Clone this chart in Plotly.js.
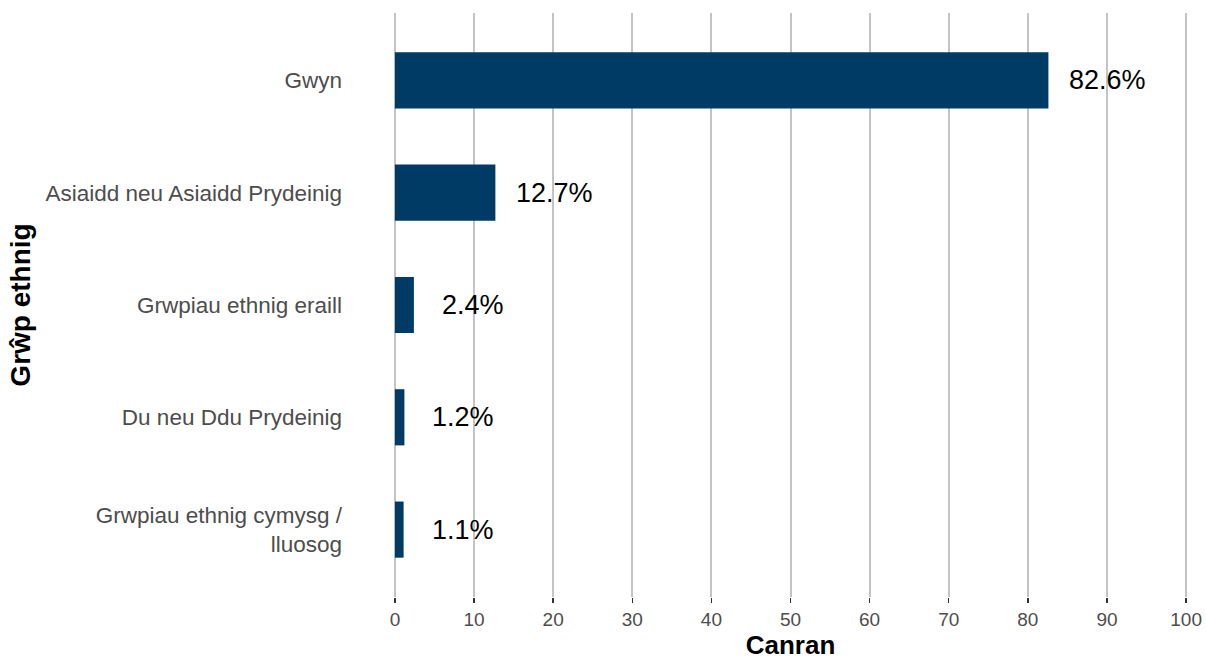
<!DOCTYPE html>
<html>
<head>
<meta charset="utf-8">
<script src="https://cdn.plot.ly/plotly-3.0.1.min.js"></script>
<style>html,body{margin:0;padding:0;background:#fff;}#chart{width:1206px;height:660px;}</style>
</head>
<body>
<div id="chart"></div>
<script>
const categories = [
  "Gwyn",
  "Asiaidd neu Asiaidd Prydeinig",
  "Grwpiau ethnig eraill",
  "Du neu Ddu Prydeinig",
  "Grwpiau ethnig cymysg /<br>lluosog"
];
const values = [82.6, 12.7, 2.4, 1.2, 1.1];
const valueLabels = ["82.6%", "12.7%", "2.4%", "1.2%", "1.1%"];
const xTicks = [0, 10, 20, 30, 40, 50, 60, 70, 80, 90, 100];

const FONT = "Arial, 'Liberation Sans', sans-serif";

const trace = {
  type: "bar",
  orientation: "h",
  x: values,
  y: categories,
  width: 0.5,
  marker: { color: "#003b66", line: { width: 0 } },
  hoverinfo: "skip"
};

const annotations = values.map((v, i) => ({
  x: v, y: categories[i], xref: "x", yref: "y",
  text: valueLabels[i], showarrow: false,
  xanchor: "center", yanchor: "middle", xshift: 59,
  font: { family: FONT, size: 27, color: "#000000" }
}));

const layout = {
  width: 1206, height: 660,
  margin: { l: 387, r: 12, t: 12.5, b: 62.5, pad: 0 },
  paper_bgcolor: "#ffffff",
  plot_bgcolor: "#ffffff",
  showlegend: false,
  font: { family: FONT },
  xaxis: {
    range: [-1, 101],
    tickvals: xTicks,
    ticktext: xTicks.map(String),
    showgrid: true, gridcolor: "#c4c4c4", gridwidth: 2,
    zeroline: false, showline: false,
    ticks: "outside", ticklen: 5, tickwidth: 1.5, tickcolor: "#333333",
    tickfont: { family: FONT, size: 19, color: "#4d4d4d" },
    title: { text: "<b>Canran</b>", font: { family: FONT, size: 26, color: "#000000" }, standoff: 13 },
    fixedrange: true
  },
  yaxis: {
    type: "category",
    range: [4.6, -0.6],
    showgrid: false, zeroline: false, showline: false,
    ticks: "", ticklabelstandoff: 44,
    tickfont: { family: FONT, size: 22.5, color: "#4d4d4d" },
    title: { text: "<b>Grŵp ethnig</b>", font: { family: FONT, size: 28, color: "#000000" }, standoff: 6 },
    fixedrange: true
  },
  annotations: annotations
};

Plotly.newPlot("chart", [trace], layout, { displayModeBar: false, staticPlot: true });
</script>
</body>
</html>
